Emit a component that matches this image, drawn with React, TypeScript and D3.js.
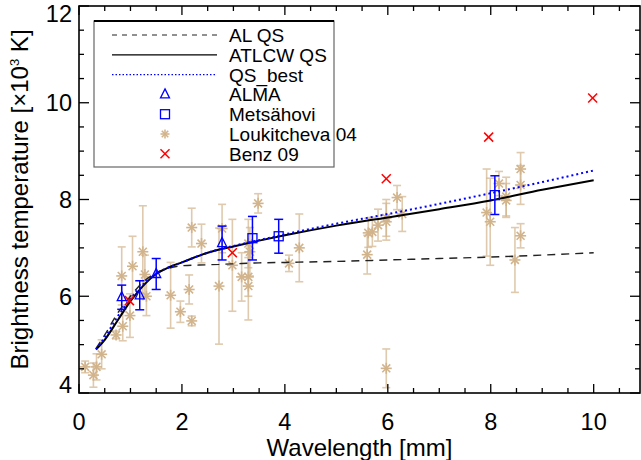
import React from 'react';
import * as d3 from 'd3';

// model curves (wavelength in mm, Tb in 10^3 K)
const modelWl = [0.33, 0.5, 0.75, 1.0, 1.25, 1.5, 1.75, 2.0, 2.5, 3, 3.5, 4, 5, 6, 7, 8, 9, 10];
const alQs = [4.92, 5.2, 5.65, 6.0, 6.3, 6.48, 6.58, 6.63, 6.65, 6.67, 6.69, 6.7, 6.72, 6.75, 6.78, 6.81, 6.85, 6.9];
const atlcwQs = [4.9, 5.1, 5.5, 5.9, 6.22, 6.46, 6.6, 6.7, 6.9, 7.03, 7.15, 7.26, 7.46, 7.63, 7.8, 7.98, 8.2, 8.4];
const qsBest = [4.9, 5.15, 5.58, 5.95, 6.25, 6.47, 6.6, 6.7, 6.9, 7.04, 7.16, 7.28, 7.5, 7.7, 7.91, 8.13, 8.36, 8.6];

// observations
const almaWl = [0.83, 1.18, 1.5, 2.78];
const almaTb = [5.98, 6.02, 6.46, 7.1];
const almaErr = [0.25, 0.3, 0.32, 0.35];

const metsWl = [3.37, 3.88, 8.08];
const metsTb = [7.2, 7.24, 8.09];
const metsErr = [0.45, 0.35, 0.4];

const loukWl = [0.12, 0.28, 0.34, 0.44, 0.72, 0.85, 0.83, 0.99, 1.04, 1.24, 1.28, 1.31, 1.78, 1.97, 2.14, 2.19, 2.19, 2.38,
  2.72, 2.78, 2.98, 3.16, 3.29, 3.29, 3.29, 3.32, 3.48, 4.08, 4.28, 5.6, 5.62, 5.7, 5.81, 5.97, 5.97, 5.97, 6.18, 6.28,
  7.92, 7.99, 8.16, 8.3, 8.3, 8.58, 8.58, 8.58, 8.47];
const loukTb = [4.54, 4.37, 4.54, 4.8, 5.2, 5.38, 6.42, 5.6, 6.62, 6.92, 6.45, 6.0, 6.02, 5.68, 6.14, 5.49, 7.42, 7.09,
  6.21, 7.4, 6.64, 6.4, 6.21, 6.4, 7.09, 6.92, 7.92, 6.68, 7.0, 6.86, 7.31, 7.33, 7.47, 7.54, 7.62, 4.51, 8.04, 7.7,
  7.73, 7.54, 8.33, 8.06, 7.98, 8.63, 8.3, 7.25, 6.75];
const loukErr = [0.12, 0.25, 0.27, 0.3, 0.08, 0.3, 0.6, 0.45, 0.62, 0.95, 0.4, 0.4, 0.68, 0.22, 0.3, 0.1, 0.4, 0.4,
  1.2, 0.5, 0.95, 0.5, 0.7, 0.4, 0.5, 0.5, 0.2, 0.17, 0.7, 0.4, 0.3, 0.3, 0.33, 0.38, 0.38, 0.4, 0.25, 0.36,
  0.9, 0.9, 0.25, 0.4, 0.35, 0.34, 0.4, 0.25, 0.67];

const benzWl = [0.98, 2.98, 5.97, 7.96, 9.98];
const benzTb = [5.91, 6.9, 8.43, 9.29, 10.1];

const xTicks = [0, 2, 4, 6, 8, 10];
const yTicks = [4, 6, 8, 10, 12];
const legendLabels = ['AL QS', 'ATLCW QS', 'QS_best', 'ALMA', 'Metsähovi', 'Loukitcheva 04', 'Benz 09'];

const W = 641;
const H = 460;
const left = 79;
const right = 640;
const top = 6;
const bottom = 393;
const TAN = '#D2B48C';
const BLUE = '#0000ff';
const RED = '#ff0000';
const FONT = '"Liberation Sans", Arial, Helvetica, sans-serif';

const x = d3.scaleLinear().domain([0, 10.9]).range([left, right]);
const y = d3.scaleLinear().domain([4, 12]).range([bottom, top]);

const Asterisk = ({ cx, cy, r = 5.5 }: { cx: number; cy: number; r?: number }) => {
  const d = r * 0.72;
  return (
    <g stroke={TAN} strokeWidth={1.6}>
      <line x1={cx - r} y1={cy} x2={cx + r} y2={cy} />
      <line x1={cx} y1={cy - r} x2={cx} y2={cy + r} />
      <line x1={cx - d} y1={cy - d} x2={cx + d} y2={cy + d} />
      <line x1={cx - d} y1={cy + d} x2={cx + d} y2={cy - d} />
    </g>
  );
};

const Triangle = ({ cx, cy }: { cx: number; cy: number }) => (
  <path d={`M${cx},${cy - 5.5}L${cx + 4.5},${cy + 3.5}L${cx - 4.5},${cy + 3.5}Z`} fill="none" stroke={BLUE} strokeWidth={1.3} />
);

const Square = ({ cx, cy }: { cx: number; cy: number }) => (
  <rect x={cx - 4.5} y={cy - 4.5} width={9} height={9} fill="none" stroke={BLUE} strokeWidth={1.3} />
);

const Cross = ({ cx, cy }: { cx: number; cy: number }) => (
  <g stroke={RED} strokeWidth={1.5}>
    <line x1={cx - 4.5} y1={cy - 4.5} x2={cx + 4.5} y2={cy + 4.5} />
    <line x1={cx - 4.5} y1={cy + 4.5} x2={cx + 4.5} y2={cy - 4.5} />
  </g>
);

const ErrBar = ({ wl, tb, err, color, cap = 4, sw = 1.3, op = 1 }:
  { wl: number; tb: number; err: number; color: string; cap?: number; sw?: number; op?: number }) => {
  const cx = x(wl);
  const y1 = y(tb + err);
  const y2 = y(tb - err);
  return (
    <g stroke={color} strokeWidth={sw} opacity={op}>
      <line x1={cx} y1={y1} x2={cx} y2={y2} />
      <line x1={cx - cap} y1={y1} x2={cx + cap} y2={y1} />
      <line x1={cx - cap} y1={y2} x2={cx + cap} y2={y2} />
    </g>
  );
};

export default function App() {
  const line = d3.line<number>()
    .x((_, i) => x(modelWl[i]))
    .y(d => y(d))
    .curve(d3.curveMonotoneX);

  const xMinor = d3.range(0, 10.9, 0.5);
  const yMinor = d3.range(4, 12.01, 0.5);

  const lgX1 = 112;
  const lgX2 = 217;
  const lgMark = 165;
  const lgText = 229;
  const rowY = (i: number) => 35 + i * 19.8;

  return (
    <svg width={W} height={H} style={{ position: 'absolute', left: 0, top: 0, background: '#fff' }}
      fontFamily={FONT}>
      <defs>
        <clipPath id="plot">
          <rect x={left} y={top} width={right - left} height={bottom - top} />
        </clipPath>
      </defs>

      <g clipPath="url(#plot)">
        {/* Loukitcheva 04 */}
        {loukWl.map((wl, i) => (
          <ErrBar key={'le' + i} wl={wl} tb={loukTb[i]} err={loukErr[i]} color={TAN} sw={1.6} op={0.7} />
        ))}
        {loukWl.map((wl, i) => (
          <Asterisk key={'lm' + i} cx={x(wl)} cy={y(loukTb[i])} />
        ))}

        {/* models */}
        <path d={line(alQs) || ''} fill="none" stroke="#222" strokeWidth={1.4} strokeDasharray="8,6" />
        <path d={line(atlcwQs) || ''} fill="none" stroke="#000" strokeWidth={2} />
        <path d={line(qsBest) || ''} fill="none" stroke={BLUE} strokeWidth={2} strokeDasharray="2,3" />

        {/* ALMA */}
        {almaWl.map((wl, i) => (
          <g key={'a' + i}>
            <ErrBar wl={wl} tb={almaTb[i]} err={almaErr[i]} color={BLUE} cap={4.5} sw={1.5} />
            <Triangle cx={x(wl)} cy={y(almaTb[i])} />
          </g>
        ))}

        {/* Metsähovi */}
        {metsWl.map((wl, i) => (
          <g key={'m' + i}>
            <ErrBar wl={wl} tb={metsTb[i]} err={metsErr[i]} color={BLUE} cap={4.5} sw={1.5} />
            <Square cx={x(wl)} cy={y(metsTb[i])} />
          </g>
        ))}

        {/* Benz 09 */}
        {benzWl.map((wl, i) => (
          <Cross key={'b' + i} cx={x(wl)} cy={y(benzTb[i])} />
        ))}
      </g>

      {/* frame */}
      <rect x={left} y={top} width={right - left} height={bottom - top} fill="none" stroke="#000" strokeWidth={1.6} />

      {/* ticks */}
      <g stroke="#000" strokeWidth={1.3}>
        {xMinor.map(v => {
          const major = Math.abs(v % 2) < 1e-6;
          const len = major ? 9 : 5;
          return (
            <g key={'xt' + v}>
              <line x1={x(v)} x2={x(v)} y1={bottom} y2={bottom - len} />
              <line x1={x(v)} x2={x(v)} y1={top} y2={top + len} />
            </g>
          );
        })}
        {yMinor.map(v => {
          const major = Math.abs(v % 2) < 1e-6;
          const len = major ? 10 : 5;
          return (
            <g key={'yt' + v}>
              <line x1={left} x2={left + len} y1={y(v)} y2={y(v)} />
              <line x1={right} x2={right - len} y1={y(v)} y2={y(v)} />
            </g>
          );
        })}
      </g>

      {/* tick labels */}
      {xTicks.map(v => (
        <text key={'xl' + v} x={x(v)} y={430} textAnchor="middle" fontSize={23.5} fill="#000">{v}</text>
      ))}
      {yTicks.map(v => (
        <text key={'yl' + v} x={72} y={Math.min(Math.max(y(v) + 8.5, 22), bottom)} textAnchor="end" fontSize={23.5} fill="#000">{v}</text>
      ))}

      {/* axis titles */}
      <text x={(left + right) / 2} y={456} textAnchor="middle" fontSize={24} fill="#000">Wavelength [mm]</text>
      <text transform={`translate(28,${(top + bottom) / 2}) rotate(-90)`} textAnchor="middle" fontSize={24} fill="#000">
        Brightness temperature [×10<tspan dy={-9} fontSize={13}>3</tspan><tspan dy={9}> K]</tspan>
      </text>

      {/* legend */}
      <rect x={94} y={21} width={240} height={146} fill="#fff" stroke="#666" strokeWidth={1.2} />
      <line x1={94} x2={334} y1={21} y2={21} stroke="#000" strokeWidth={2} />
      <line x1={lgX1} x2={lgX2} y1={rowY(0)} y2={rowY(0)} stroke="#222" strokeWidth={1} strokeDasharray="5,5" />
      <line x1={lgX1} x2={lgX2} y1={rowY(1)} y2={rowY(1)} stroke="#000" strokeWidth={1.3} />
      <line x1={lgX1} x2={lgX2} y1={rowY(2)} y2={rowY(2)} stroke={BLUE} strokeWidth={1.3} strokeDasharray="1.5,2" />
      <Triangle cx={lgMark} cy={rowY(3)} />
      <Square cx={lgMark} cy={rowY(4)} />
      <Asterisk cx={lgMark} cy={rowY(5)} r={4.5} />
      <Cross cx={lgMark} cy={rowY(6)} />
      {legendLabels.map((t, i) => (
        <text key={'lg' + i} x={lgText} y={rowY(i) + 7} fontSize={19} fill="#000">{t}</text>
      ))}
    </svg>
  );
}
